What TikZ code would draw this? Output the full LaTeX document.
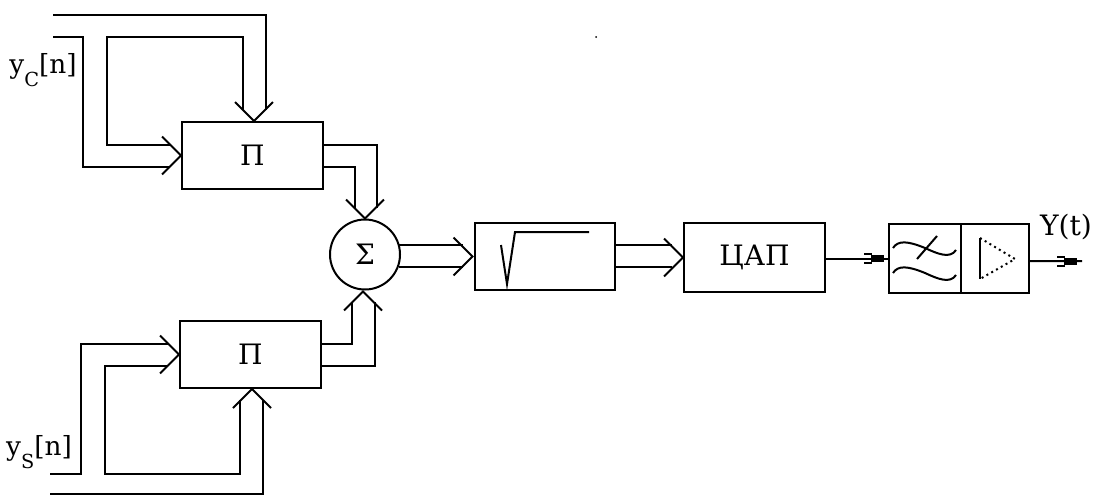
\documentclass[tikz,border=0pt]{standalone}
\usepackage{fontspec}
\setmainfont{DejaVu Serif}
\usetikzlibrary{arrows.meta,positioning,calc}

\tikzset{
  every path/.style={line width=0.04cm},
  block/.style={draw,rectangle,outer sep=0pt,minimum width=2.82cm,minimum height=1.34cm,font=\fontsize{16}{16}\selectfont},
  chev/.pic={\draw (-19,-19) -- (0,0) -- (-19,19);},
  tipout/.pic={
    \draw (-25,-4.5) -- (-17,-4.5) (-25,4.5) -- (-17,4.5);
    \fill (-18,-3.5) rectangle (-5,3.5);}
}

\begin{document}
\begin{tikzpicture}[x=0.02cm,y=-0.02cm]
  \useasboundingbox (0,0) rectangle (1094,495);
  % blocks
  \node[block] (p1) at (252.5,155.5) {П};
  \node[block] (p2) at (250.5,354.5) {П};
  \node[draw,circle,outer sep=0pt,minimum size=1.4cm,inner sep=0pt,font=\fontsize{16}{16}\selectfont] (sum) at (365,254.5) {Σ};
  \node[block] (rt) at (545,256.5) {};
  \node[block,minimum height=1.38cm] (dac) at (754.5,257.5) {ЦАП};
  \node[block,minimum width=1.44cm,minimum height=1.38cm] (flt) at (925,258.5) {};
  \node[block,minimum width=1.36cm,minimum height=1.38cm,right=0pt of flt] (amp) {};
  % free ends
  \coordinate (inc1) at (53,15);
  \coordinate (inc2) at (53,37);
  \coordinate (ins1) at (50,474);
  \coordinate (ins2) at (50,494);
  \coordinate (out) at (1082,261);
  % upper multiplier
  \coordinate (p1n1) at ($(p1.north)+(-9.5,-12)$);
  \coordinate (p1n2) at ($(p1.north)+(13.5,-12)$);
  \coordinate (p1w1) at ($(p1.west)+(-12,-10.5)$);
  \coordinate (p1w2) at ($(p1.west)+(-12,11.5)$);
  \draw (inc1) -| (p1n2);
  \draw (inc2) -- (83,37) |- (p1w2);
  \draw (p1w1) -| (107,37) -| (p1n1);
  \pic[rotate=-90] at ($(p1.north)+(1.5,-1)$) {chev};
  \pic at ($(p1.west)+(-1,0)$) {chev};
  % lower multiplier
  \coordinate (p2s1) at ($(p2.south)+(-10.5,12)$);
  \coordinate (p2s2) at ($(p2.south)+(12.5,12)$);
  \coordinate (p2w1) at ($(p2.west)+(-12,-10.5)$);
  \coordinate (p2w2) at ($(p2.west)+(-12,11.5)$);
  \draw (ins2) -| (p2s2);
  \draw (ins1) -- (81,474) |- (p2w1);
  \draw (p2w2) -| (105,474) -| (p2s1);
  \pic[rotate=90] at ($(p2.south)+(1.5,1)$) {chev};
  \pic at ($(p2.west)+(-1,0)$) {chev};
  % adder
  \draw ($(p1.east)+(0,-10.5)$) -| ($(sum.north)+(12,-12)$);
  \draw ($(p1.east)+(0,11.5)$) -| ($(sum.north)+(-10,-12)$);
  \draw ($(p2.east)+(0,-10.5)$) -| ($(sum.south)+(-13,12)$);
  \draw ($(p2.east)+(0,11.5)$) -| ($(sum.south)+(10,12)$);
  \pic[rotate=-90] at ($(sum.north)+(0,-1)$) {chev};
  \pic[rotate=90] at ($(sum.south)+(-2,2)$) {chev};
  % main line
  \draw ($(sum.east)+(-1,-9.5)$) -- ($(rt.west)+(-12,-11.5)$);
  \draw ($(sum.east)+(-1,12.5)$) -- ($(rt.west)+(-12,10.5)$);
  \pic at ($(rt.west)+(-2,0)$) {chev};
  \draw ($(rt.east)+(0,-11.5)$) -- ($(dac.west)+(-12,-12.5)$);
  \draw ($(rt.east)+(0,10.5)$) -- ($(dac.west)+(-12,9.5)$);
  \pic at ($(dac.west)+(-1,0)$) {chev};
  \draw ($(dac.east)+(0,1)$) -- (flt.west);
  \pic at (flt.west) {tipout};
  \draw ($(amp.east)+(0,2.5)$) -- (out);
  \pic at (out) {tipout};
  % root sign
  \draw (501,245) -- (507,284) -- (515,232) -- (589,232);
  % filter
  \draw (893,248) .. controls (898,240) and (908,241) .. (925,248) .. controls (938,254) and (950,259) .. (956,250);
  \draw (893,273) .. controls (898,265) and (908,266) .. (925,273) .. controls (938,279) and (950,284) .. (956,275);
  \draw (917,259) -- (937,236);
  % amplifier
  \draw (980,238) -- (980,279);
  \draw[dotted] (980,238) -- (1015,259) -- (980,279);
  % labels
  \node[inner sep=0pt,font=\fontsize{15}{15}\selectfont] (lc) at (43,70) {y\raisebox{-7pt}{\fontsize{11}{11}\selectfont C}[n]};
  \node[inner sep=0pt,font=\fontsize{15}{15}\selectfont] (ls) at (39,452) {y\raisebox{-7pt}{\fontsize{11}{11}\selectfont S}[n]};
  \node[inner sep=0pt,font=\fontsize{16}{16}\selectfont] (ly) at (1066,227) {Y(t)};
  \fill (596,37) circle (1);
\end{tikzpicture}
\end{document}
